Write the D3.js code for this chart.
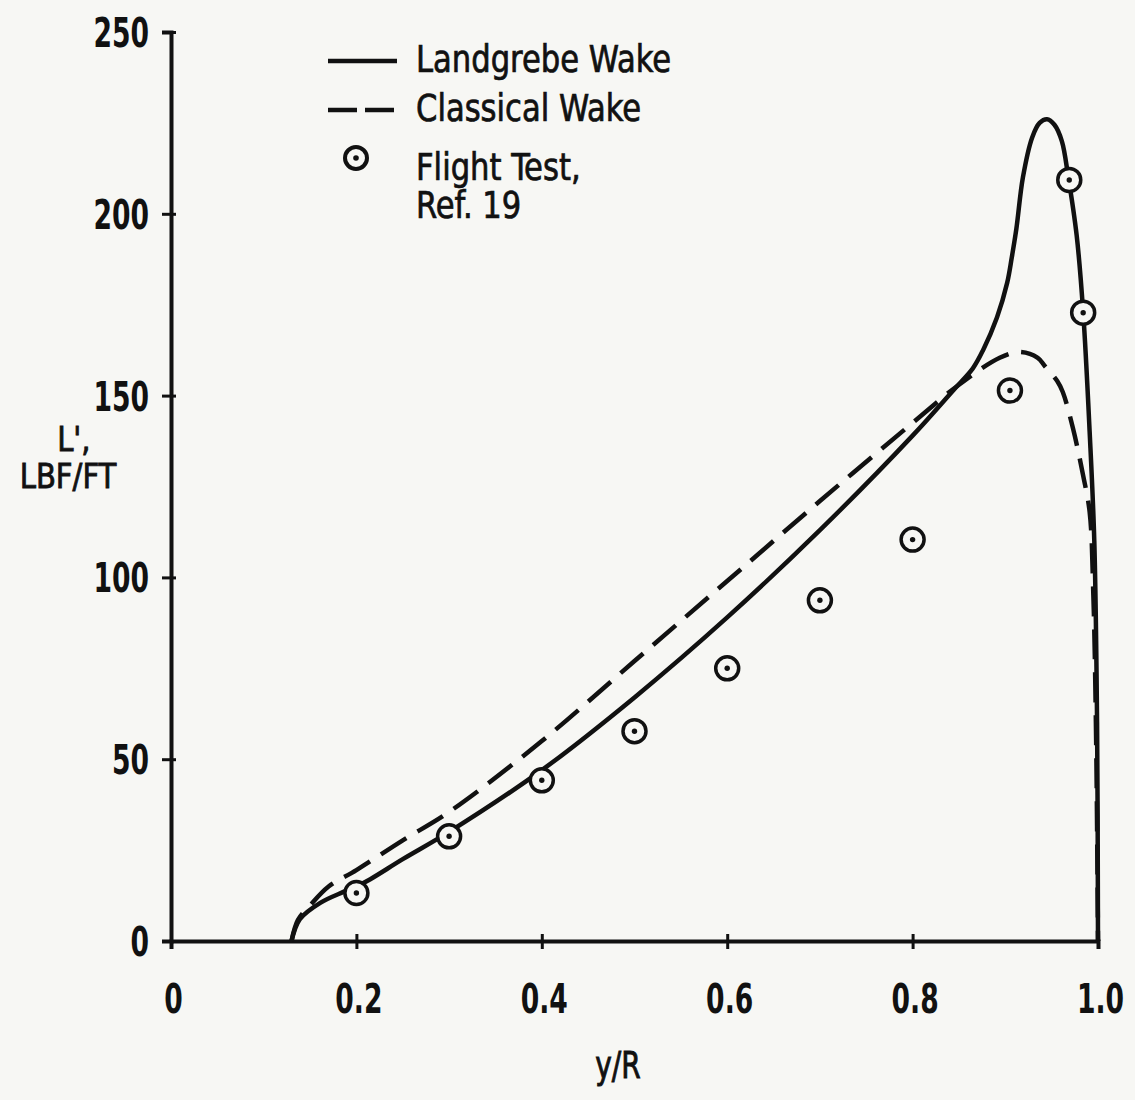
<!DOCTYPE html>
<html><head><meta charset="utf-8">
<script src="https://cdn.jsdelivr.net/npm/d3@7"></script>
<style>
body{margin:0;background:#f7f7f4;}
svg{display:block;}
</style></head><body>
<svg id="chart" width="1135" height="1100"></svg>
<script>
// ---- data ----
const landgrebeX = [0.13,0.139,0.161,0.186,0.2,0.215,0.25,0.3,0.4,0.5,0.6,0.7,0.8,0.844,0.865,0.876,0.891,0.902,0.907,0.912,0.919,0.929,0.937,0.945,0.953,0.961,0.968,0.977,0.984,0.991,0.996,0.999,1.0];
const landgrebeY = [0,6,10.5,13.5,15,17,22.5,30,47,67,89,113,139,151.5,157.5,162.5,171.5,181,188,196,210,221,225,226,224.5,220,210,194,173,140,110,60,0];
const classicalX = [0.13,0.137,0.15,0.17,0.2,0.25,0.3,0.4,0.5,0.6,0.7,0.8,0.85,0.894,0.915,0.935,0.943,0.956,0.962,0.973,0.984,0.991,0.995,0.998,1.0];
const classicalY = [0,5.8,9.8,15,19.5,27.7,35.5,55,77,99,121,142.5,153,160.4,162,160.4,158,154,151,141,128,118,95,55,0];
const flightX = [0.2,0.3,0.4,0.5,0.6,0.7,0.8,0.905,0.969,0.984];
const flightY = [13.2,28.8,44.2,57.7,75,93.7,110.4,151.4,209.3,172.8];
const xTicks = [0,0.2,0.4,0.6,0.8,1.0];
const xTickLabels = ["0","0.2","0.4","0.6","0.8","1.0"];
const yTicks = [0,50,100,150,200,250];
const yTickLabels = ["0","50","100","150","200","250"];
const legendLabels = [["Landgrebe Wake"],["Classical Wake"],["Flight Test,","Ref. 19"]];
const xTitle = "y/R";
const yTitle = ["L',","LBF/FT"];

const ink = "#111";
const paper = "#f7f7f4";
const font = "'DejaVu Sans Condensed','DejaVu Sans',sans-serif";
const svg = d3.select("#chart");
svg.append("rect").attr("width",1135).attr("height",1100).attr("fill",paper);

const x = d3.scaleLinear().domain([0,1]).range([171,1098]);
const y = d3.scaleLinear().domain([0,250]).range([941,32]);

// y axis
const gy = svg.append("g").attr("transform",`translate(${x(0)},0)`)
  .call(d3.axisLeft(y).tickValues(yTicks).tickFormat((d,i)=>yTickLabels[i]).tickSizeOuter(0).tickSize(9));
gy.select(".domain").attr("stroke",ink).attr("stroke-width",4);
gy.selectAll(".tick line").attr("stroke",ink).attr("stroke-width",3).attr("x1",5)
  .attr("opacity",d=>d===0?0:1);
gy.selectAll(".tick text").attr("x",0).attr("dy","0.36em").attr("fill",ink)
  .attr("font-family",font).attr("font-weight","bold").attr("font-size",40)
  .attr("text-anchor","end").attr("transform","translate(-22,0) scale(0.74,1)");

// x axis
const gx = svg.append("g").attr("transform",`translate(0,${y(0)})`)
  .call(d3.axisBottom(x).tickValues(xTicks).tickFormat((d,i)=>xTickLabels[i]).tickSizeOuter(0).tickSize(8));
gx.select(".domain").attr("stroke",ink).attr("stroke-width",4);
gx.selectAll(".tick line").attr("stroke",ink).attr("stroke-width",3).attr("y1",-7)
  .attr("opacity",d=>d===0?0:1);
gx.selectAll(".tick text").attr("y",0).attr("dy",0).attr("fill",ink)
  .attr("font-family",font).attr("font-weight","bold").attr("font-size",40)
  .attr("text-anchor","middle").attr("transform","translate(2,72) scale(0.74,1)");

// axis titles
svg.append("text").text(xTitle).attr("x",0).attr("y",0).attr("text-anchor","middle")
  .attr("font-family",font).attr("font-size",38).attr("fill",ink)
  .attr("stroke",ink).attr("stroke-width",0.9)
  .attr("transform","translate(618,1078) scale(0.82,1)");
const yt = svg.append("text").attr("text-anchor","middle")
  .attr("font-family",font).attr("font-size",33).attr("fill",ink)
  .attr("stroke",ink).attr("stroke-width",0.8)
  .attr("transform","translate(68,451) scale(0.98,1)");
yt.selectAll("tspan").data(yTitle).join("tspan").text(d=>d)
  .attr("x",(d,i)=>i===0?6:0).attr("y",(d,i)=>i*37);

// curves
const line = d3.line().x(d=>x(d[0])).y(d=>y(d[1])).curve(d3.curveCatmullRom.alpha(0.5));
const lg = d3.zip(landgrebeX,landgrebeY);
const cl = d3.zip(classicalX,classicalY);
svg.append("path").attr("d",line(cl)).attr("fill","none").attr("stroke",ink)
  .attr("stroke-width",4.5).attr("stroke-dasharray","30,13");
svg.append("path").attr("d",line(lg)).attr("fill","none").attr("stroke",ink)
  .attr("stroke-width",4.5);

// flight test points
const pts = svg.append("g").selectAll("g").data(d3.zip(flightX,flightY)).join("g")
  .attr("transform",d=>`translate(${x(d[0])},${y(d[1])})`);
pts.append("circle").attr("r",11.5).attr("fill",paper).attr("stroke",ink).attr("stroke-width",3.5);
pts.append("circle").attr("r",2.7).attr("fill",ink);

// legend
const leg = svg.append("g");
leg.append("line").attr("x1",328).attr("x2",397).attr("y1",61).attr("y2",61)
  .attr("stroke",ink).attr("stroke-width",4.5);
leg.append("line").attr("x1",328).attr("x2",397).attr("y1",110).attr("y2",110)
  .attr("stroke",ink).attr("stroke-width",4.5).attr("stroke-dasharray","29,8");
const lc = leg.append("g").attr("transform","translate(356,158)");
lc.append("circle").attr("r",11).attr("fill","none").attr("stroke",ink).attr("stroke-width",4);
lc.append("circle").attr("r",2.8).attr("fill",ink);
const legY = [72,121,180];
legendLabels.forEach((lines,i)=>{
  const t = leg.append("text")
    .attr("transform",`translate(416,${legY[i]}) scale(0.92,1)`)
    .attr("font-family",font).attr("font-size",37).attr("fill",ink)
    .attr("stroke",ink).attr("stroke-width",0.7);
  t.selectAll("tspan").data(lines).join("tspan").text(d=>d)
    .attr("x",0).attr("y",(d,j)=>j*38);
});
</script>
</body></html>
